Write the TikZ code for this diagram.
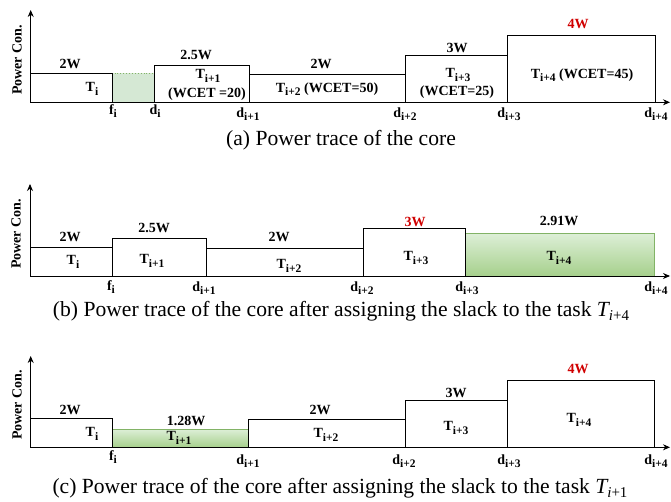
\documentclass[tikz,border=0pt]{standalone}
\usepackage{fontspec}
\setmainfont{Liberation Serif}
\usetikzlibrary{arrows.meta}
\definecolor{gborder}{HTML}{82B366}
\definecolor{glight}{HTML}{D5E8D4}
\definecolor{gtop}{HTML}{DDEFD7}
\definecolor{gbot}{HTML}{A6D08C}
\definecolor{pred}{HTML}{D00000}
\newcommand\myT[1]{T\raisebox{-3.5pt}{\bfseries\fontsize{11.5}{11.5}\selectfont #1}}
\newcommand\myd[1]{d\raisebox{-3.5pt}{\bfseries\fontsize{11.5}{11.5}\selectfont #1}}
\newcommand\myf[1]{f\raisebox{-3.5pt}{\bfseries\fontsize{11.5}{11.5}\selectfont #1}}
\newcommand\capT[1]{{\itshape T}\raisebox{-4pt}{\fontsize{15}{15}\selectfont{\itshape i}#1}}
\begin{document}
\begin{tikzpicture}[x=1pt,y=-1pt,
  lbl/.style={inner sep=0pt,font=\bfseries\fontsize{14}{14}\selectfont},
  redlbl/.style={lbl,text=pred},
  captxt/.style={inner sep=0pt,font=\fontsize{21.6}{22}\selectfont},
  ylab/.style={lbl,rotate=90},
  blk/.style={draw=black,line width=0.9pt,fill=white},
  gblk/.style={draw=gborder,line width=0.9pt,top color=gtop,bottom color=gbot},
  dotblk/.style={draw=gborder,line width=0.9pt,dotted,fill=glight},
  axis/.style={line width=0.9pt,-{Stealth[length=7pt,width=6pt]}}]
\useasboundingbox (0,0) rectangle (671,502);
% ================= (a) =================
\coordinate (oa) at (30.7,102.3);
\coordinate (ya) at (30.7,10);
\coordinate (xa) at (670,102.3);
\path[dotblk] (112,73) rectangle (154,102.3);
\path[blk] (30.7,73) rectangle (112,102.3);
\path[blk] (154,65) rectangle (249,102.3);
\path[blk] (249,74.5) rectangle (405,102.3);
\path[blk] (405,55) rectangle (507,102.3);
\path[blk] (507,35) rectangle (655,102.3);
\draw[axis] (oa) -- (ya);
\draw[axis] (oa) -- (xa);
\node[ylab] (pa) at (17,60) {Power Con.};
\node[lbl] (wa1) at (70,64) {2W};
\node[lbl] (wa2) at (196,55) {2.5W};
\node[lbl] (wa3) at (321,64) {2W};
\node[lbl] (wa4) at (457,48) {3W};
\node[redlbl] (wa5) at (578,24) {4W};
\node[lbl] (ta1) at (92,89) {\myT{i}};
\node[lbl] (ta2) at (208,76) {\myT{i+1}};
\node[lbl] (ta2b) at (207,94) {(WCET =20)};
\node[lbl] (ta3) at (327,89) {\myT{i+2} (WCET=50)};
\node[lbl] (ta4) at (458,75) {\myT{i+3}};
\node[lbl] (ta4b) at (457,92) {(WCET=25)};
\node[lbl] (ta5) at (582,75) {\myT{i+4} (WCET=45)};
\node[lbl] (ka1) at (113,111) {\myf{i}};
\node[lbl] (ka2) at (155,111) {\myd{i}};
\node[lbl] (ka3) at (248,114) {\myd{i+1}};
\node[lbl] (ka4) at (405,114) {\myd{i+2}};
\node[lbl] (ka5) at (509,114) {\myd{i+3}};
\node[lbl] (ka6) at (656,114) {\myd{i+4}};
\node[captxt] (capa) at (341,140) {(a) Power trace of the core};
% ================= (b) =================
\coordinate (ob) at (30,276);
\coordinate (yb) at (30,184);
\coordinate (xb) at (670,276);
\path[gblk] (465,233.3) rectangle (654,276);
\path[blk] (30,247.3) rectangle (112,276);
\path[blk] (112,238.7) rectangle (206,276);
\path[blk] (206,248.3) rectangle (363,276);
\path[blk] (363,228.7) rectangle (465,276);
\draw[axis] (ob) -- (yb);
\draw[axis] (ob) -- (xb);
\node[ylab] (pb) at (16,234) {Power Con.};
\node[lbl] (wb1) at (70,237) {2W};
\node[lbl] (wb2) at (154,228) {2.5W};
\node[lbl] (wb3) at (279,237) {2W};
\node[redlbl] (wb4) at (415,222) {3W};
\node[lbl] (wb5) at (559,221) {2.91W};
\node[lbl] (tb1) at (73,262) {\myT{i}};
\node[lbl] (tb2) at (152,261) {\myT{i+1}};
\node[lbl] (tb3) at (289,266) {\myT{i+2}};
\node[lbl] (tb4) at (416,258) {\myT{i+3}};
\node[lbl] (tb5) at (559,258) {\myT{i+4}};
\node[lbl] (kb1) at (111,287) {\myf{i}};
\node[lbl] (kb2) at (204,288) {\myd{i+1}};
\node[lbl] (kb3) at (362,288) {\myd{i+2}};
\node[lbl] (kb4) at (467,288) {\myd{i+3}};
\node[lbl] (kb5) at (656,288) {\myd{i+4}};
\node[captxt] (capb) at (341,311) {(b) Power trace of the core after assigning the slack to the task \capT{+4}};
% ================= (c) =================
\coordinate (oc) at (30.7,447.3);
\coordinate (yc) at (30.7,356);
\coordinate (xc) at (670,447.3);
\path[gblk] (112,429) rectangle (248,447.3);
\path[blk] (30.7,418) rectangle (112,447.3);
\path[blk] (248,419) rectangle (405,447.3);
\path[blk] (405,400) rectangle (507,447.3);
\path[blk] (507,380) rectangle (654,447.3);
\draw[axis] (oc) -- (yc);
\draw[axis] (oc) -- (xc);
\node[ylab] (pc) at (17,405) {Power Con.};
\node[lbl] (wc1) at (70,410) {2W};
\node[lbl] (wc2) at (186,421) {1.28W};
\node[lbl] (wc3) at (320,410) {2W};
\node[lbl] (wc4) at (456,393) {3W};
\node[redlbl] (wc5) at (578,369) {4W};
\node[lbl] (tc1) at (92,434) {\myT{i}};
\node[lbl] (tc2) at (179,438) {\myT{i+1}};
\node[lbl] (tc3) at (326,435) {\myT{i+2}};
\node[lbl] (tc4) at (456,428) {\myT{i+3}};
\node[lbl] (tc5) at (579,420) {\myT{i+4}};
\node[lbl] (kc1) at (113,457) {\myf{i}};
\node[lbl] (kc2) at (248,461) {\myd{i+1}};
\node[lbl] (kc3) at (404,461) {\myd{i+2}};
\node[lbl] (kc4) at (509,461) {\myd{i+3}};
\node[lbl] (kc5) at (656,461) {\myd{i+4}};
\node[captxt] (capc) at (340,488) {(c) Power trace of the core after assigning the slack to the task \capT{+1}};
\end{tikzpicture}
\end{document}
